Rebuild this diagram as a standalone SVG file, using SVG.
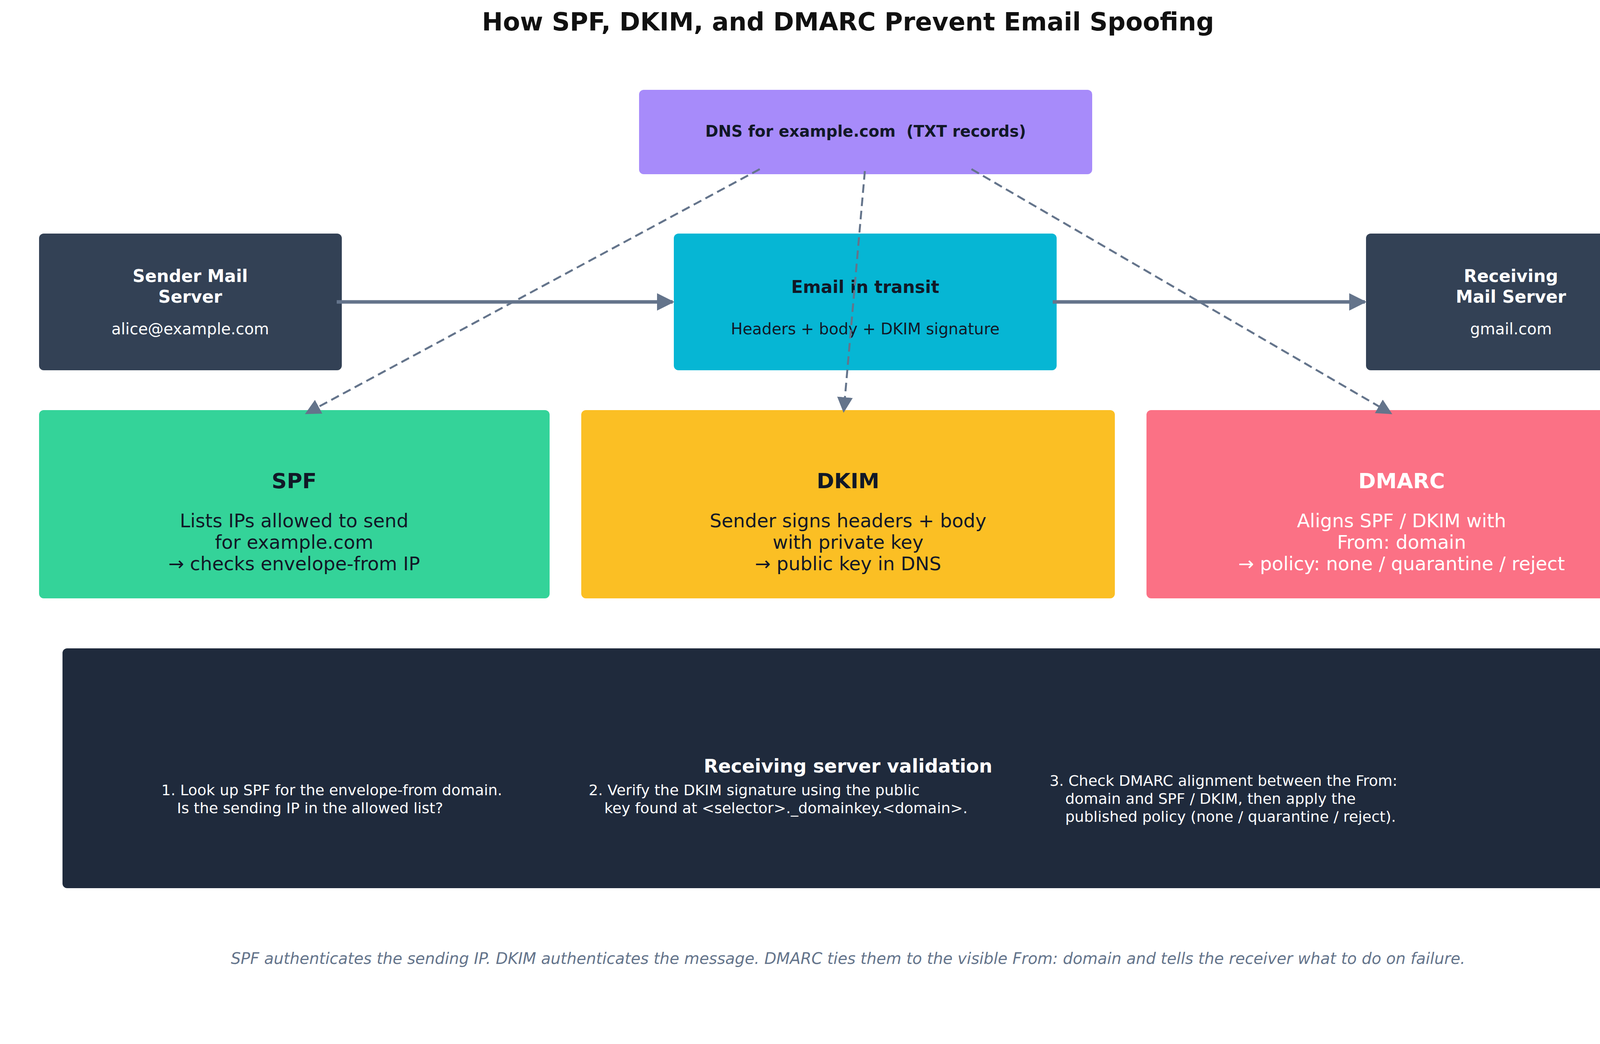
<svg xmlns="http://www.w3.org/2000/svg" width="4320" height="2673" viewBox="0 0 4320 2673">
<style>
text{font-family:"DejaVu Sans",sans-serif;text-anchor:middle}
.b{font-weight:bold}
.dash{stroke:#64748b;stroke-width:5;stroke-dasharray:22,12;fill:none}
.solid{stroke:#64748b;stroke-width:9;fill:none}
</style>
<defs>
<marker id="ah" markerWidth="8" markerHeight="8" refX="7" refY="4" orient="auto" markerUnits="strokeWidth"><path d="M0,0L8,4L0,8z" fill="#64748b"/></marker>
<marker id="ah2" markerWidth="5" markerHeight="5" refX="4.5" refY="2.5" orient="auto" markerUnits="strokeWidth"><path d="M0,0L5,2.5L0,5z" fill="#64748b"/></marker>
</defs>
<rect width="4320" height="2673" fill="#fff"/>
<text x="2171" y="78" class="b" font-size="64" fill="#111">How SPF, DKIM, and DMARC Prevent Email Spoofing</text>
<g id="dns"><rect x="1636" y="230" width="1160" height="216" rx="12" fill="#a78bfa"/><text x="2216" y="350" class="b" font-size="40" fill="#111827" xml:space="preserve">DNS for example.com  (TXT records)</text></g>
<g id="sender"><rect x="100" y="598" width="775" height="350" rx="12" fill="#334155"/><text x="487" y="722" class="b" font-size="44" fill="#fff">Sender Mail</text><text x="487" y="775" class="b" font-size="44" fill="#fff">Server</text><text x="487" y="856" font-size="40" fill="#fff">alice@example.com</text></g>
<g id="transit"><rect x="1725" y="598" width="980" height="350" rx="12" fill="#06b6d4"/><text x="2215" y="750" class="b" font-size="44" fill="#111827">Email in transit</text><text x="2215" y="856" font-size="40" fill="#111827">Headers + body + DKIM signature</text></g>
<g id="receiver"><rect x="3497" y="598" width="743" height="350" rx="12" fill="#334155"/><text x="3868" y="722" class="b" font-size="44" fill="#fff">Receiving</text><text x="3868" y="775" class="b" font-size="44" fill="#fff">Mail Server</text><text x="3868" y="856" font-size="40" fill="#fff">gmail.com</text></g>
<g id="spf"><rect x="100" y="1050" width="1307" height="482" rx="12" fill="#34d399"/><text x="753" y="1250" class="b" font-size="54" fill="#111827">SPF</text><text x="753" y="1350" font-size="48" fill="#111827">Lists IPs allowed to send</text><text x="753" y="1405" font-size="48" fill="#111827">for example.com</text><text x="753" y="1460" font-size="48" fill="#111827">→ checks envelope-from IP</text></g>
<g id="dkim"><rect x="1488" y="1050" width="1366" height="482" rx="12" fill="#fbbf24"/><text x="2171" y="1250" class="b" font-size="54" fill="#111827">DKIM</text><text x="2171" y="1350" font-size="48" fill="#111827">Sender signs headers + body</text><text x="2171" y="1405" font-size="48" fill="#111827">with private key</text><text x="2171" y="1460" font-size="48" fill="#111827">→ public key in DNS</text></g>
<g id="dmarc"><rect x="2935" y="1050" width="1305" height="482" rx="12" fill="#fb7185"/><text x="3588" y="1250" class="b" font-size="54" fill="#fff">DMARC</text><text x="3588" y="1350" font-size="48" fill="#fff">Aligns SPF / DKIM with</text><text x="3588" y="1405" font-size="48" fill="#fff">From: domain</text><text x="3588" y="1460" font-size="48" fill="#fff">→ policy: none / quarantine / reject</text></g>
<g id="validation"><rect x="160" y="1660" width="4022" height="614" rx="12" fill="#1f2a3c"/><text x="2171" y="1978" class="b" font-size="48" fill="#fff">Receiving server validation</text>
<g font-size="38" fill="#fff"><text x="413" y="2036" style="text-anchor:start">1. Look up SPF for the envelope-from domain.</text><text x="453" y="2082" style="text-anchor:start">Is the sending IP in the allowed list?</text>
<text x="1507" y="2036" style="text-anchor:start">2. Verify the DKIM signature using the public</text><text x="1547" y="2082" style="text-anchor:start">key found at &lt;selector&gt;._domainkey.&lt;domain&gt;.</text>
<text x="2687" y="2012" style="text-anchor:start">3. Check DMARC alignment between the From:</text><text x="2727" y="2058" style="text-anchor:start">domain and SPF / DKIM, then apply the</text><text x="2727" y="2104" style="text-anchor:start">published policy (none / quarantine / reject).</text></g></g>
<text x="2171" y="2468" font-size="40" font-style="italic" fill="#64748b">SPF authenticates the sending IP. DKIM authenticates the message. DMARC ties them to the visible From: domain and tells the receiver what to do on failure.</text>
<g id="connectors">
<path class="solid" d="M862,773L1722,773" marker-end="url(#ah2)"/>
<path class="solid" d="M2695,773L3494,773" marker-end="url(#ah2)"/>
<path class="dash" d="M1945,433L785,1058" marker-end="url(#ah)"/>
<path class="dash" d="M2214,438L2160,1052" marker-end="url(#ah)"/>
<path class="dash" d="M2487,433L3560,1058" marker-end="url(#ah)"/>
</g>
</svg>
